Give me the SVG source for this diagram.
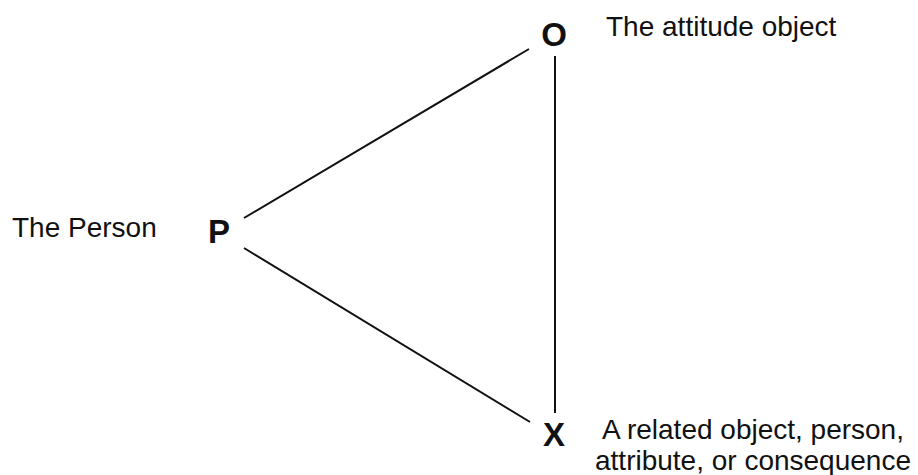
<svg xmlns="http://www.w3.org/2000/svg" width="918" height="475" viewBox="0 0 918 475">
<style>
.lbl{font-family:"Liberation Sans",Arial,sans-serif;font-size:28px;fill:#111}
.node{font-family:"Liberation Sans",Arial,sans-serif;font-size:33px;font-weight:bold;fill:#111}
.edge{stroke:#111;stroke-width:2;fill:none}
</style>
<rect width="918" height="475" fill="#fff"/>
<g id="connectors">
<line class="edge" x1="244" y1="218" x2="529" y2="49"/>
<line class="edge" x1="244" y1="248" x2="530" y2="422"/>
<line class="edge" x1="555" y1="56" x2="555" y2="413"/>
</g>
<g id="node-O">
<text class="node" x="554" y="46" text-anchor="middle">O</text>
<text class="lbl" x="606" y="36">The attitude object</text>
</g>
<g id="node-P">
<text class="node" x="219" y="243" text-anchor="middle">P</text>
<text class="lbl" x="12" y="237">The Person</text>
</g>
<g id="node-X">
<text class="node" x="554" y="446" text-anchor="middle">X</text>
<text class="lbl" x="753" y="439" text-anchor="middle">A related object, person,</text>
<text class="lbl" x="753" y="469.5" text-anchor="middle">attribute, or consequence</text>
</g>
</svg>
